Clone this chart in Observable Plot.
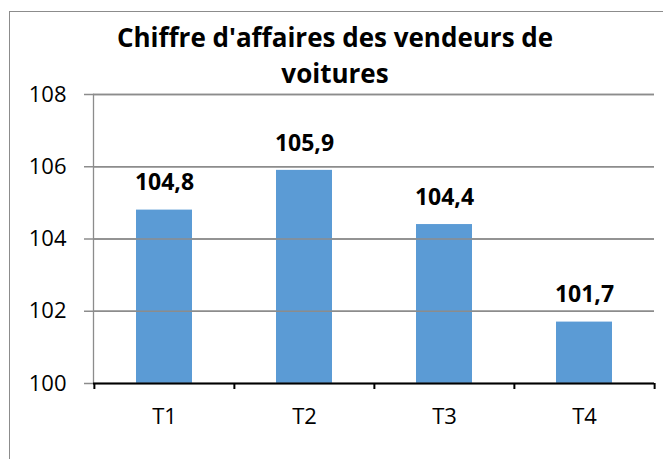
<!DOCTYPE html>
<html><head><meta charset="utf-8">
<script src="https://cdn.jsdelivr.net/npm/d3@7"></script>
<script src="https://cdn.jsdelivr.net/npm/@observablehq/plot@0.6"></script>
<style>
body{margin:0;background:#fff;}
#wrap{position:relative;width:663px;height:459px;overflow:hidden;font-family:"Open Sans",Lato,sans-serif;}
#border{position:absolute;left:9px;top:11px;width:700px;height:520px;border:1.5px solid #8c8c8c;}
#title{position:absolute;left:0;top:19px;width:670px;text-align:center;font-weight:bold;font-size:26px;line-height:36px;color:#000;}
#chart{position:absolute;left:0;top:0;}
</style></head>
<body>
<div id="wrap">
  <div id="border"></div>
  <div id="chart"></div>
  <div id="title">Chiffre d'affaires des vendeurs de<br>voitures</div>
</div>
<script>
const categories = ["T1", "T2", "T3", "T4"];
const values = [104.8, 105.9, 104.4, 101.7];
const valueLabels = ["104,8", "105,9", "104,4", "101,7"];
const yTicks = [100, 102, 104, 106, 108];

const data = categories.map((c, i) => ({cat: c, value: values[i], label: valueLabels[i]}));

const W = 663, H = 459, mL = 93, mR = 9, mT = 94, mB = 76;
const step = (W - mL - mR) / categories.length;
const gray = "#8c8c8c";
const font = "'Open Sans', Lato, sans-serif";

const chart = Plot.plot({
  width: W, height: H,
  marginLeft: mL, marginRight: mR, marginTop: mT, marginBottom: mB,
  style: {fontFamily: font, background: "transparent", overflow: "visible"},
  x: {domain: categories, paddingInner: 0.6, paddingOuter: 0.3, axis: null},
  y: {domain: [100, 108], axis: null},
  marks: [
    Plot.ruleY(yTicks.slice(1), {stroke: gray, strokeWidth: 1.3}),
    Plot.barY(data, {x: "cat", y1: 100, y2: "value", fill: "#5B9BD5"}),
    Plot.frame({anchor: "left", stroke: gray, strokeWidth: 1.3}),
    Plot.ruleY(yTicks, {y: d => d, frameAnchor: "left", x1: null, x2: null, insetLeft: -9, stroke: gray, strokeWidth: 1.3}),
    Plot.text(yTicks, {y: d => d, frameAnchor: "left", dx: -27, textAnchor: "end", fontSize: 22, fill: "#000", text: d => String(d)}),
    Plot.ruleX(categories, {x: d => d, y1: 100, y2: 100, dx: -step / 2, insetBottom: -6, stroke: "#000", strokeWidth: 2}),
    Plot.ruleX([categories[categories.length - 1]], {x: d => d, y1: 100, y2: 100, dx: step / 2, insetBottom: -6, stroke: "#000", strokeWidth: 2}),
    Plot.ruleY([100], {stroke: "#000", strokeWidth: 2}),
    Plot.text(categories, {x: d => d, y: 100, dy: 33, fontSize: 22, fill: "#000"}),
    Plot.text(data, {x: "cat", y: "value", text: "label", dy: -27, fontSize: 23, fontWeight: "bold", fill: "#000"})
  ]
});
document.getElementById("chart").appendChild(chart);
</script>
</body></html>
